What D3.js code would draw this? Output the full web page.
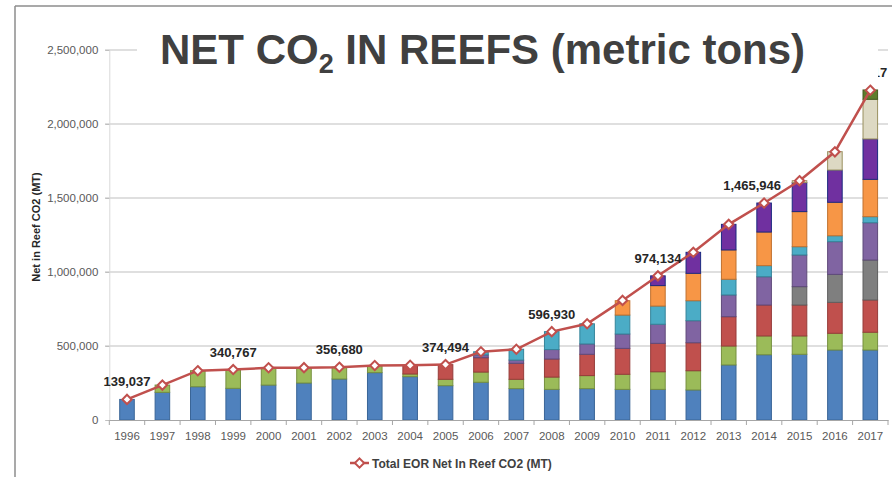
<!DOCTYPE html>
<html>
<head>
<meta charset="utf-8">
<script src="https://cdn.jsdelivr.net/npm/d3@7"></script>
<style>
  body { margin: 0; background: #fff; }
  svg { display: block; }
</style>
</head>
<body>
<script>
// years on the x axis
var years = ["1996","1997","1998","1999","2000","2001","2002","2003","2004","2005","2006",
             "2007","2008","2009","2010","2011","2012","2013","2014","2015","2016","2017"];

// stacked components, bottom to top (metric tons)
var source1  = [139037,187000,225000,214000,236000,250000,277000,320000,293000,232000,255000,212000,207000,212000,207000,207000,203000,372000,441000,444000,473000,473000];
var source2  = [0,49000,108000,127000,117000,103000,80000,48000,18000,43000,69000,63000,83000,88000,102000,119000,130000,128000,127000,124000,113000,120000];
var source3  = [0,0,0,0,0,0,0,0,59000,99000,97000,108000,122000,144000,175000,192000,189000,198000,209000,209000,209000,218000];
var source4  = [0,0,0,0,0,0,0,0,0,0,0,0,0,0,0,0,0,0,0,124000,189000,270000];
var source5  = [0,0,0,0,0,0,0,0,0,0,19000,22000,64000,70000,97000,129000,149000,147000,191000,214000,221000,252000];
var source6  = [0,0,0,0,0,0,0,0,0,0,21000,73000,121000,136000,128000,123000,135000,106000,75000,56000,40000,41000];
var source7  = [0,0,0,0,0,0,0,0,0,0,0,0,0,0,97000,138000,185000,198000,227000,237000,226000,252000];
var source8  = [0,0,0,0,0,0,0,0,0,0,0,0,0,0,0,66000,142000,173000,196000,196000,218000,273000];
var source9  = [0,0,0,0,0,0,0,0,0,0,0,0,0,0,0,0,0,0,0,13000,124000,268000];
var source10 = [0,0,0,0,0,0,0,0,0,0,0,0,0,0,0,0,0,0,0,0,0,63000];

// line series
var totalNet = [139037,236000,333000,340767,353000,353500,356680,368000,370000,374494,461000,
                478000,596930,650000,808000,974134,1133000,1322000,1465946,1617000,1812000,2228317];

var yTicks = [0, 500000, 1000000, 1500000, 2000000, 2500000];
var labelYears = ["1996","1999","2002","2005","2008","2011","2014","2017"];

var keys = ["source1","source2","source3","source4","source5","source6","source7","source8","source9","source10"];
var fills   = ["#4F81BD","#9BBB59","#C0504D","#7F7F7F","#8064A2","#4BACC6","#F79646","#7030A0","#DDD9C3","#5E7D2C"];
var strokes = ["#3A6597","#76903F","#963C3A","#5F5F5F","#5F4A7A","#35849A","#C0712F","#1C2A80","#9A9160","#445A20"];

var rows = years.map(function(y, i){
    return {year: y, source1: source1[i], source2: source2[i], source3: source3[i], source4: source4[i],
            source5: source5[i], source6: source6[i], source7: source7[i], source8: source8[i],
            source9: source9[i], source10: source10[i], total: totalNet[i]};
});

var W = 892, H = 477;
var svg = d3.select("body").append("svg").attr("width", W).attr("height", H);

var x = d3.scaleBand().domain(years).range([109.3, 888]).paddingInner(0.56).paddingOuter(0.28);
var y = d3.scaleLinear().domain([0, 2500000]).range([420, 50]);

// gridlines
svg.append("g").selectAll("line")
    .data(yTicks.slice(1))
    .enter().append("line")
    .attr("x1", 105).attr("x2", 888)
    .attr("y1", function(d){ return y(d); }).attr("y2", function(d){ return y(d); })
    .style("stroke", "#BFBFBF").style("stroke-width", 1);

// y axis
var yAxis = d3.axisLeft(y).tickValues(yTicks).tickSize(4).tickPadding(7)
    .tickFormat(d3.format(","));
var gy = svg.append("g").attr("transform", "translate(109.3,0)").call(yAxis);
gy.select(".domain").style("stroke", "#D9D9D9");
gy.selectAll(".tick line").style("stroke", "#BFBFBF");
gy.selectAll("text").style("font-family", "Liberation Sans, Arial, sans-serif")
    .style("font-size", "11.5px").style("fill", "#595959");

// stacked bars
var stack = d3.stack().keys(keys);
var layers = stack(rows);
svg.append("g").selectAll("g")
    .data(layers)
    .enter().append("g")
    .style("fill", function(d, i){ return fills[i]; })
    .style("stroke", function(d, i){ return strokes[i]; })
    .style("stroke-width", 1)
    .selectAll("rect")
    .data(function(d){ return d.filter(function(s){ return s[1] - s[0] > 0; }); })
    .enter().append("rect")
    .attr("x", function(d){ return x(d.data.year) + 0.5; })
    .attr("width", x.bandwidth() - 1)
    .attr("y", function(d){ return y(d[1]); })
    .attr("height", function(d){ return y(d[0]) - y(d[1]); });

// x axis
var xAxis = d3.axisBottom(x).tickSize(0).tickPadding(12);
var gx = svg.append("g").attr("transform", "translate(0,420)").call(xAxis);
gx.select(".domain").style("stroke", "#A6A6A6");
gx.selectAll("text").style("font-family", "Liberation Sans, Arial, sans-serif")
    .style("font-size", "11.5px").style("fill", "#595959");
// category boundary ticks
svg.append("g").selectAll("line")
    .data(years.concat(["end"]))
    .enter().append("line")
    .attr("x1", function(d, i){ return 109.3 + i * x.step(); })
    .attr("x2", function(d, i){ return 109.3 + i * x.step(); })
    .attr("y1", 420).attr("y2", 425)
    .style("stroke", "#A6A6A6");

// total line
var line = d3.line()
    .x(function(d){ return x(d.year) + x.bandwidth() / 2; })
    .y(function(d){ return y(d.total); });
svg.append("path").datum(rows)
    .attr("d", line)
    .style("fill", "none").style("stroke", "#C0504D").style("stroke-width", 2.5);

var diamond = d3.symbol().type(d3.symbolDiamond2).size(55);
svg.append("g").selectAll("path")
    .data(rows)
    .enter().append("path")
    .attr("d", diamond)
    .attr("transform", function(d){ return "translate(" + (x(d.year) + x.bandwidth() / 2) + "," + y(d.total) + ")"; })
    .style("fill", "#fff").style("stroke", "#C0504D").style("stroke-width", 2);

// data labels
svg.append("g").selectAll("text")
    .data(rows.filter(function(d){ return labelYears.indexOf(d.year) >= 0; }))
    .enter().append("text")
    .attr("x", function(d){ return x(d.year) + x.bandwidth() / 2; })
    .attr("y", function(d){ return y(d.total) - 13; })
    .attr("dx", function(d){ return (d.year === "2014" || d.year === "2017") ? -12 : 0; })
    .attr("text-anchor", "middle")
    .style("font-family", "Liberation Sans, Arial, sans-serif")
    .style("font-weight", "bold").style("font-size", "13px").style("fill", "#262626")
    .text(function(d){ return d3.format(",")(d.total); });

// y axis title
svg.append("text")
    .attr("transform", "translate(40,227) rotate(-90)")
    .attr("text-anchor", "middle")
    .style("font-family", "Liberation Sans, Arial, sans-serif")
    .style("font-weight", "bold").style("font-size", "11px").style("fill", "#262626")
    .text("Net in Reef CO2 (MT)");

// legend
var lg = svg.append("g").attr("transform", "translate(350,463)");
lg.append("line").attr("x1", 0).attr("x2", 19).attr("y1", 0).attr("y2", 0)
    .style("stroke", "#C0504D").style("stroke-width", 2.5);
lg.append("path").attr("d", diamond).attr("transform", "translate(9.5,0)")
    .style("fill", "#fff").style("stroke", "#C0504D").style("stroke-width", 2);
lg.append("text").attr("x", 22).attr("y", 4.5)
    .style("font-family", "Liberation Sans, Arial, sans-serif")
    .style("font-weight", "bold").style("font-size", "12px").style("fill", "#404040")
    .text("Total EOR Net In Reef CO2 (MT)");

// title box over the plot top
svg.append("rect").attr("x", 137).attr("y", 12).attr("width", 741).attr("height", 72)
    .style("fill", "#fff");
var title = svg.append("text").attr("x", 160).attr("y", 64)
    .style("font-family", "Liberation Sans, Arial, sans-serif")
    .style("font-weight", "bold").style("font-size", "42px").style("fill", "#404040");
title.append("tspan").text("NET CO");
title.append("tspan").attr("dy", 9).style("font-size", "27px").text("2");
title.append("tspan").attr("dy", -9).text(" IN REEFS (metric tons)");

// slide frame
svg.append("line").attr("x1", 15).attr("x2", W).attr("y1", 6).attr("y2", 6)
    .style("stroke", "#8C8C8C").style("stroke-width", 1.5);
svg.append("line").attr("x1", 15).attr("x2", 15).attr("y1", 6).attr("y2", H)
    .style("stroke", "#8C8C8C").style("stroke-width", 1.5);
</script>
</body>
</html>
